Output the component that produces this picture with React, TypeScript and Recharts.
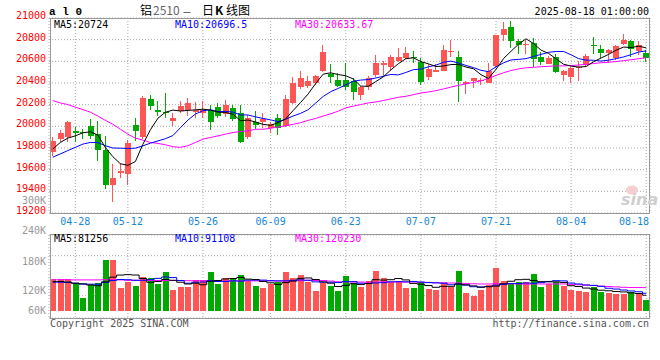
import { Bar, CartesianGrid, ComposedChart, Line, XAxis, YAxis } from 'recharts'

// trading days shown, 2025-04-23 .. 2025-08-18
const dates = [
  '04-23', '04-24', '04-25', '04-28', '04-29', '04-30',
  '05-06', '05-07', '05-08', '05-09', '05-12', '05-13', '05-14', '05-15', '05-16',
  '05-19', '05-20', '05-21', '05-22', '05-23', '05-26', '05-27', '05-28', '05-29', '05-30',
  '06-03', '06-04', '06-05', '06-06', '06-09', '06-10', '06-11', '06-12', '06-13',
  '06-16', '06-17', '06-18', '06-19', '06-20', '06-23', '06-24', '06-25', '06-26', '06-27', '06-30',
  '07-01', '07-02', '07-03', '07-04', '07-07', '07-08', '07-09', '07-10', '07-11',
  '07-14', '07-15', '07-16', '07-17', '07-18', '07-21', '07-22', '07-23', '07-24', '07-25',
  '07-28', '07-29', '07-30', '07-31', '08-01', '08-04', '08-05', '08-06', '08-07', '08-08',
  '08-11', '08-12', '08-13', '08-14', '08-15', '08-18',
]
const dateTicks = ['04-28', '05-12', '05-26', '06-09', '06-23', '07-07', '07-21', '08-04', '08-18']
const priceTicks = [19200, 19400, 19600, 19800, 20000, 20200, 20400, 20600, 20800, 21000]

const opens = [
  19760, 19882, 19897, 19958, 19949, 20005, 19927, 19781, 19463, 19565,
  19562, 20009, 19906, 20253, 20155, 20131, 20048, 20140, 20149, 20131,
  20125, 20155, 20176, 20110, 20170, 20119, 19905, 20040, 20043, 19988,
  20079, 20004, 20216, 20359, 20368, 20399, 20511, 20481, 20429, 20429,
  20420, 20292, 20359, 20475, 20566, 20551, 20602, 20633, 20642, 20596,
  20460, 20505, 20514, 20687, 20642, 20390, 20420, 20414, 20399, 20560,
  20840, 20915, 20785, 20754, 20773, 20642, 20572, 20642, 20475, 20460,
  20536, 20566, 20754, 20712, 20681, 20627, 20764, 20788, 20694, 20681,
]
const highs = [
  19897, 19964, 20049, 19997, 19973, 20064, 20048, 19912, 19650, 19660,
  19875, 20079, 20277, 20292, 20238, 20308, 20125, 20231, 20262, 20222,
  20231, 20201, 20216, 20246, 20201, 20201, 20109, 20146, 20119, 20043,
  20110, 20292, 20460, 20511, 20469, 20475, 20748, 20572, 20490, 20581,
  20444, 20374, 20466, 20657, 20602, 20657, 20727, 20733, 20694, 20627,
  20572, 20572, 20748, 20794, 20694, 20420, 20444, 20444, 20581, 20846,
  20961, 20976, 20809, 20801, 20815, 20688, 20651, 20672, 20520, 20551,
  20600, 20672, 20824, 20748, 20718, 20748, 20855, 20794, 20788, 20703,
]
const lows = [
  19730, 19852, 19852, 19858, 19882, 19881, 19684, 19418, 19300, 19520,
  19461, 19866, 19881, 20149, 20095, 20079, 20003, 20125, 20094, 20079,
  20079, 19966, 20079, 20090, 20049, 19845, 19887, 19973, 19988, 19943,
  19921, 19994, 20207, 20347, 20353, 20384, 20499, 20399, 20359, 20338,
  20247, 20247, 20338, 20460, 20460, 20511, 20596, 20621, 20581, 20384,
  20429, 20499, 20511, 20642, 20225, 20298, 20353, 20384, 20399, 20536,
  20788, 20724, 20670, 20667, 20551, 20566, 20572, 20490, 20420, 20399,
  20420, 20551, 20672, 20627, 20581, 20611, 20754, 20642, 20657, 20596,
]
const closes = [
  19861, 19937, 20037, 19940, 19934, 19910, 19781, 19463, 19522, 19592,
  19845, 19954, 20262, 20186, 20131, 20119, 20079, 20192, 20216, 20155,
  20149, 20039, 20094, 20201, 20070, 19857, 20079, 20013, 20070, 20025,
  19982, 20256, 20399, 20444, 20414, 20466, 20688, 20456, 20368, 20359,
  20314, 20359, 20450, 20581, 20581, 20636, 20642, 20681, 20627, 20405,
  20529, 20520, 20703, 20694, 20414, 20405, 20444, 20429, 20511, 20840,
  20900, 20785, 20754, 20763, 20618, 20596, 20633, 20505, 20511, 20535,
  20551, 20648, 20742, 20681, 20703, 20739, 20794, 20718, 20748, 20627,
]
const ma5 = [
  19790, 19851, 19891, 19912, 19940, 19950, 19920, 19805, 19720, 19655,
  19640, 19675, 19835, 19968, 20075, 20130, 20150, 20141, 20147, 20152,
  20158, 20150, 20131, 20128, 20111, 20052, 20058, 20040, 20018, 20009,
  20034, 20069, 20146, 20221, 20299, 20396, 20482, 20494, 20478, 20467,
  20437, 20371, 20370, 20413, 20457, 20521, 20578, 20624, 20633, 20598,
  20577, 20552, 20557, 20570, 20572, 20547, 20532, 20477, 20441, 20526,
  20625, 20693, 20758, 20808, 20764, 20703, 20673, 20623, 20573, 20556,
  20547, 20552, 20597, 20631, 20665, 20703, 20732, 20727, 20740, 20724,
]
const ma10 = [
  19715, 19745, 19776, 19806, 19836, 19851, 19851, 19821, 19800, 19798,
  19796, 19798, 19820, 19845, 19865, 19886, 19915, 19988, 20058, 20114,
  20144, 20153, 20136, 20138, 20131, 20105, 20105, 20087, 20073, 20060,
  20043, 20065, 20095, 20120, 20154, 20215, 20276, 20320, 20350, 20383,
  20416, 20427, 20432, 20446, 20462, 20479, 20475, 20497, 20523, 20528,
  20549, 20565, 20591, 20602, 20585, 20562, 20542, 20517, 20505, 20549,
  20586, 20613, 20618, 20625, 20645, 20664, 20683, 20691, 20691, 20660,
  20625, 20611, 20610, 20602, 20611, 20625, 20641, 20662, 20686, 20696,
]
const ma30 = [
  20238, 20216, 20201, 20177, 20155, 20131, 20095, 20055, 20019, 19973,
  19928, 19891, 19873, 19851, 19842, 19830, 19812, 19806, 19821, 19851,
  19882, 19897, 19912, 19928, 19943, 19952, 19958, 19973, 19973, 19982,
  19994, 20004, 20019, 20034, 20055, 20073, 20095, 20116, 20140, 20171,
  20186, 20201, 20216, 20225, 20238, 20253, 20268, 20277, 20292, 20308,
  20317, 20329, 20345, 20362, 20378, 20392, 20405, 20420, 20442, 20470,
  20495, 20515, 20530, 20540, 20545, 20550, 20554, 20557, 20558, 20561,
  20566, 20572, 20580, 20587, 20592, 20598, 20606, 20615, 20624, 20634,
]

// volume, lots
const vols = [
  164000, 164000, 164000, 143000, 66000, 135000, 143000, 264000, 264000, 117000,
  149000, 130000, 173000, 169000, 140000, 200000, 109000, 121000, 126000, 161000,
  157000, 202000, 138000, 169000, 169000, 187000, 155000, 130000, 117000, 138000,
  147000, 200000, 169000, 187000, 149000, 104000, 143000, 130000, 104000, 181000,
  143000, 121000, 155000, 207000, 171000, 149000, 152000, 119000, 119000, 150000,
  114000, 109000, 143000, 121000, 207000, 93000, 79000, 109000, 135000, 223000,
  155000, 143000, 149000, 147000, 192000, 124000, 138000, 149000, 130000, 109000,
  104000, 98000, 126000, 98000, 93000, 86000, 86000, 100000, 86000, 57000,
]
const volMa5 = [
  152000, 152000, 149000, 143000, 140000, 134000, 130000, 150000, 174000, 185000,
  187000, 185000, 167000, 148000, 152000, 162000, 158000, 148000, 139000, 143000,
  135000, 153000, 157000, 165000, 167000, 173000, 164000, 162000, 152000, 145000,
  137000, 146000, 154000, 168000, 170000, 162000, 150000, 143000, 126000, 132000,
  140000, 136000, 141000, 161000, 159000, 161000, 167000, 160000, 142000, 138000,
  131000, 122000, 127000, 127000, 139000, 135000, 129000, 122000, 125000, 128000,
  140000, 153000, 161000, 163000, 157000, 151000, 150000, 150000, 147000, 130000,
  126000, 118000, 113000, 107000, 104000, 100000, 98000, 93000, 90000, 81256,
]
const volMa10 = [
  148000, 148000, 147000, 143000, 138000, 138000, 138000, 147000, 157000, 162000,
  161000, 158000, 158000, 161000, 168000, 175000, 172000, 157000, 143000, 148000,
  149000, 156000, 152000, 152000, 155000, 154000, 159000, 159000, 159000, 156000,
  155000, 155000, 158000, 160000, 158000, 150000, 148000, 148000, 147000, 151000,
  151000, 143000, 142000, 144000, 146000, 150000, 151000, 150000, 152000, 149000,
  146000, 145000, 143000, 135000, 138000, 133000, 125000, 124000, 126000, 133000,
  137000, 141000, 141000, 144000, 143000, 146000, 152000, 156000, 155000, 144000,
  139000, 134000, 132000, 127000, 117000, 113000, 108000, 103000, 99000, 91108,
]
const volMa30 = [
  161000, 161000, 161000, 160000, 160000, 160000, 160000, 161000, 161000, 160000,
  158000, 158000, 158000, 157000, 157000, 157000, 157000, 157000, 156000, 156000,
  156000, 156000, 155000, 155000, 155000, 155000, 155000, 155000, 155000, 155000,
  154000, 155000, 155000, 156000, 158000, 157000, 157000, 154000, 150000, 150000,
  149000, 149000, 148000, 149000, 150000, 149000, 149000, 149000, 149000, 148000,
  147000, 145000, 145000, 144000, 144000, 142000, 140000, 139000, 139000, 141000,
  141000, 140000, 139000, 138000, 139000, 139000, 139000, 139000, 139000, 137000,
  135000, 133000, 131000, 128000, 126000, 124000, 122000, 121000, 121000, 120230,
]
const volGridTicks = [78700, 181600, 284500]

const RED = '#ff5555'
const GREEN = '#00a800'
const BLUE = '#1a87d6'
const MONO = '"DejaVu Sans Mono", monospace'

const rows = dates.map((d, i) => ({
  d,
  o: opens[i],
  h: highs[i],
  l: lows[i],
  c: closes[i],
  ma5: ma5[i],
  ma10: ma10[i],
  ma30: ma30[i],
}))

const volRows = dates.map((d, i) => ({
  d,
  v: vols[i],
  up: closes[i] >= opens[i],
  m5: volMa5[i],
  m10: volMa10[i],
  m30: volMa30[i],
}))

// draws one candle inside the [low, high] bar the library positioned
function Candle(props: any) {
  const { x, y, width, height, payload } = props
  const { o, h, l, c } = payload
  const color = c >= o ? RED : GREEN
  const top = Math.min(y, y + height)
  const ratio = h === l ? 0 : Math.abs(height) / (h - l)
  const py = (v: number) => top + (h - v) * ratio
  const cx = Math.round(x + width / 2)
  const bt = Math.round(py(Math.max(o, c)))
  const bb = Math.round(py(Math.min(o, c)))
  return (
    <g>
      <line x1={cx - 0.5} x2={cx - 0.5} y1={Math.round(py(h))} y2={Math.round(py(l))} stroke={color} />
      <rect x={cx - 3} y={bt} width={6} height={Math.max(bb - bt, 1)} fill={color} />
    </g>
  )
}

function VolBar(props: any) {
  const { x, y, width, height, payload } = props
  const cx = Math.round(x + width / 2)
  const top = Math.round(Math.min(y, y + height))
  const bottom = Math.round(Math.max(y, y + height))
  return <rect x={cx - 3} y={top} width={6} height={bottom - top} fill={payload.up ? RED : GREEN} />
}

function PriceTick({ x, y, payload }: any) {
  return (
    <text x={x} y={y + 1} textAnchor="end" fill="#ff0000" fontSize={10} fontFamily={MONO}>
      {payload.value}
    </text>
  )
}

function DateTick({ x, y, payload }: any) {
  return (
    <text x={Math.min(x, 634)} y={y + 12} textAnchor="middle" fill={BLUE} fontSize={10} fontFamily={MONO}>
      {payload.value}
    </text>
  )
}

const volLabels = [
  ['300K', 204],
  ['240K', 234],
  ['180K', 265],
  ['120K', 294],
  ['60K', 314],
] as const

export default function App() {
  return (
    <div style={{ position: 'absolute', left: 0, top: 0, width: 660, height: 360, background: '#fff', overflow: 'hidden' }}>
      <div style={{ position: 'absolute', left: 0, top: 0 }}>
        <ComposedChart width={660} height={229} data={rows} margin={{ top: 18, right: 10, bottom: 0, left: 0 }}>
          <CartesianGrid stroke="#a8a8a8" strokeDasharray="1 2" />
          <XAxis
            dataKey="d"
            ticks={dateTicks}
            interval={0}
            height={16}
            tickSize={0}
            tickMargin={0}
            axisLine={false}
            tickLine={false}
            tick={<DateTick />}
          />
          <YAxis
            domain={[19200, 21000]}
            ticks={priceTicks}
            interval={0}
            allowDataOverflow
            width={49}
            tickSize={0}
            tickMargin={3}
            axisLine={false}
            tickLine={false}
            tick={<PriceTick />}
          />
          <Bar dataKey={(r: any) => [r.l, r.h]} barSize={6} shape={<Candle />} isAnimationActive={false} />
          <Line dataKey="ma30" stroke="#ff00ff" strokeWidth={1} dot={false} isAnimationActive={false} />
          <Line dataKey="ma10" stroke="#0000ff" strokeWidth={1} dot={false} isAnimationActive={false} />
          <Line dataKey="ma5" stroke="#000000" strokeWidth={1} dot={false} isAnimationActive={false} />
        </ComposedChart>
      </div>
      <div style={{ position: 'absolute', left: 0, top: 0 }}>
        <ComposedChart width={660} height={360} data={volRows} margin={{ top: 235, right: 10, bottom: 42, left: 49 }}>
          <CartesianGrid stroke="#a8a8a8" strokeDasharray="1 2" />
          <XAxis dataKey="d" ticks={dateTicks} interval={0} hide />
          <YAxis domain={[-36000, 391000]} ticks={volGridTicks} allowDataOverflow hide />
          <Bar dataKey="v" barSize={6} shape={<VolBar />} isAnimationActive={false} />
          <Line type="step" dataKey="m30" stroke="#ff00ff" strokeWidth={1} dot={false} isAnimationActive={false} />
          <Line type="step" dataKey="m10" stroke="#0000ff" strokeWidth={1} dot={false} isAnimationActive={false} />
          <Line type="step" dataKey="m5" stroke="#000000" strokeWidth={1} dot={false} isAnimationActive={false} />
        </ComposedChart>
      </div>
      <svg width={660} height={360} style={{ position: 'absolute', left: 0, top: 0, pointerEvents: 'none' }}>
        <rect x={50.5} y={18.5} width={599} height={195} fill="none" stroke="#999" />
        <rect x={50.5} y={234.5} width={599} height={84} fill="none" stroke="#999" />
        <text x={49} y={15} fontFamily='"Liberation Mono", monospace' fontWeight="bold" fontSize={11}>a l 0</text>
        <text y={15} fontSize={12} fontFamily='"Noto Sans CJK SC", sans-serif'>
          <tspan x={140}>铝</tspan>
          <tspan x={153} fill="#666">2510</tspan>
          <tspan x={183} fontSize={9}>—</tspan>
          <tspan x={202}>日</tspan>
          <tspan x={215} fontWeight="bold">K</tspan>
          <tspan x={226}>线图</tspan>
        </text>
        <text x={649} y={15} textAnchor="end" fontFamily={MONO} fontSize={10}>2025-08-18 01:00:00</text>
        <g fontFamily={MONO} fontSize={10}>
          <text x={54} y={28} fill="#000">MA5:20724</text>
          <text x={175} y={28} fill="#0000ff">MA10:20696.5</text>
          <text x={295} y={28} fill="#ff00ff">MA30:20633.67</text>
          <text x={54} y={242} fill="#000">MA5:81256</text>
          <text x={175} y={242} fill="#0000ff">MA10:91108</text>
          <text x={295} y={242} fill="#ff00ff">MA30:120230</text>
          {volLabels.map(([t, yy]) => (
            <text key={t} x={46} y={yy} textAnchor="end" fill="#999">{t}</text>
          ))}
          <text x={50} y={327} fill="#555">Copyright 2025 SINA.COM</text>
          <text x={649} y={327} textAnchor="end" fill="#555">http://finance.sina.com.cn</text>
        </g>
        <ellipse cx={632} cy={190} rx={6} ry={4.5} fill="#f6d0d0" />
        <text x={621} y={205} fontFamily='"DejaVu Sans", sans-serif' fontStyle="italic" fontWeight="bold" fontSize={16} fill="#cfcfcf">sina</text>
      </svg>
    </div>
  )
}
